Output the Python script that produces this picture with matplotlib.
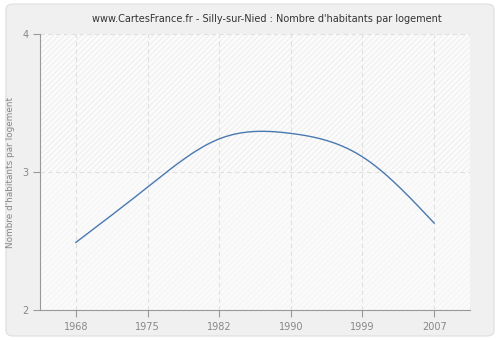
import numpy as np
import matplotlib
matplotlib.use("Agg")
import matplotlib.pyplot as plt
from matplotlib.patches import FancyBboxPatch, Rectangle

years = ["1968", "1975", "1982", "1990", "1999", "2007"]
values = [2.49, 2.89, 3.24, 3.28, 3.11, 2.63]
yticks = [2, 3, 4]


def natural_spline(x, y, n=300):
    # natural cubic spline so the line comes out smooth between the points
    x = np.asarray(x, float)
    y = np.asarray(y, float)
    k = len(x)
    h = np.diff(x)
    A = np.zeros((k, k))
    r = np.zeros(k)
    A[0, 0] = A[-1, -1] = 1
    for i in range(1, k - 1):
        A[i, i - 1] = h[i - 1]
        A[i, i] = 2 * (h[i - 1] + h[i])
        A[i, i + 1] = h[i]
        r[i] = 3 * ((y[i + 1] - y[i]) / h[i] - (y[i] - y[i - 1]) / h[i - 1])
    c = np.linalg.solve(A, r)
    xs = np.linspace(x[0], x[-1], n)
    idx = np.clip(np.searchsorted(x, xs) - 1, 0, k - 2)
    dx = xs - x[idx]
    b = (y[1:] - y[:-1]) / h - h * (2 * c[:-1] + c[1:]) / 3
    d = (c[1:] - c[:-1]) / (3 * h)
    ys = y[idx] + b[idx] * dx + c[idx] * dx ** 2 + d[idx] * dx ** 3
    return xs, ys


plt.rcParams["hatch.linewidth"] = 0.6
plt.rcParams["hatch.color"] = "#e6e6e6"

fig = plt.figure(figsize=(5, 3.4), dpi=100)
fig.patch.set_facecolor("white")
fig.patches.append(FancyBboxPatch((0.012, 0.012), 0.976, 0.976, boxstyle="round,pad=0,rounding_size=0.015",
                                  transform=fig.transFigure, facecolor="#f0f0f0", edgecolor="#e2e2e2",
                                  linewidth=1, zorder=-10))

ax = fig.add_axes([0.08, 0.088, 0.86, 0.812])
ax.set_facecolor("#fbfbfb")
pos = np.arange(len(years))
ax.set_xlim(-0.5, len(years) - 0.5)
ax.set_ylim(2, 4)

ax.add_patch(Rectangle((-0.5, 2), len(years), 2, facecolor="none", hatch="//////", edgecolor="#ececec",
                       linewidth=0, zorder=0))
ax.add_patch(Rectangle((-0.5, 2), len(years), 1, facecolor="#fafafa", alpha=0.55, linewidth=0, zorder=0.5))

xs, ys = natural_spline(pos, values)
ax.plot(xs, ys, color="#4a78b0", linewidth=1, zorder=3)

ax.set_xticks(pos)
ax.set_xticklabels(years)
ax.set_yticks(yticks)
ax.grid(True, color="#e0e0e0", linestyle=(0, (4, 3)), linewidth=0.8, zorder=1)
ax.set_axisbelow(True)

for s in ["top", "right"]:
    ax.spines[s].set_visible(False)
for s in ["left", "bottom"]:
    ax.spines[s].set_color("#999999")
ax.tick_params(colors="#999999", labelcolor="#888888", labelsize=7, length=5, width=0.8)

ax.set_ylabel("Nombre d'habitants par logement", color="#888888", fontsize=6.4, labelpad=5)
fig.text(0.534, 0.944, "www.CartesFrance.fr - Silly-sur-Nied : Nombre d'habitants par logement",
         fontsize=7, color="#333333", ha="center", va="center")

fig.savefig("out.png", dpi=100, facecolor=fig.get_facecolor())
